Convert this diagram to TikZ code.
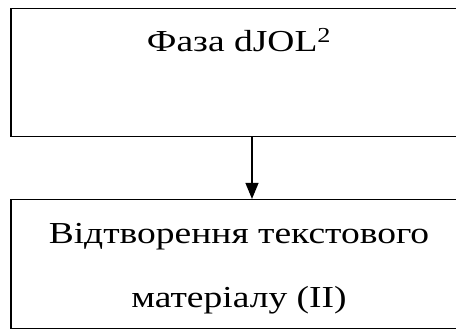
\documentclass[tikz,border=0pt]{standalone}
\usepackage{fontspec}
\setmainfont{Liberation Serif}[FakeStretch=1.23]
\usepackage{tikz}
\usetikzlibrary{arrows.meta}
\usetikzlibrary{positioning}

\begin{document}
\begin{tikzpicture}[x=1pt,y=-1pt,
  blok/.style={draw, line width=1.2pt, minimum width=482pt, inner sep=0pt},
  napys/.style={font=\fontsize{30.5}{64}\selectfont, align=center, inner sep=0pt},
  strilka/.style={line width=1.2pt, -{Triangle[length=16pt,width=13pt]}}]
\useasboundingbox (0,0) rectangle (456,329);
\node[blok, minimum height=128.4pt] (faza) at (252,72.5) {};
\node[blok, minimum height=129pt] (vidtv) at (252,264) {};
\node[napys, anchor=base] (fazatxt) at (239,52) {Фаза dJOL\textsuperscript{2}};%
\node[napys, anchor=base] (vidtvtxt) at (239,307) {Відтворення текстового\\ матеріалу (II)};
\draw[strilka] (faza) -- (vidtv);
\end{tikzpicture}
\end{document}
